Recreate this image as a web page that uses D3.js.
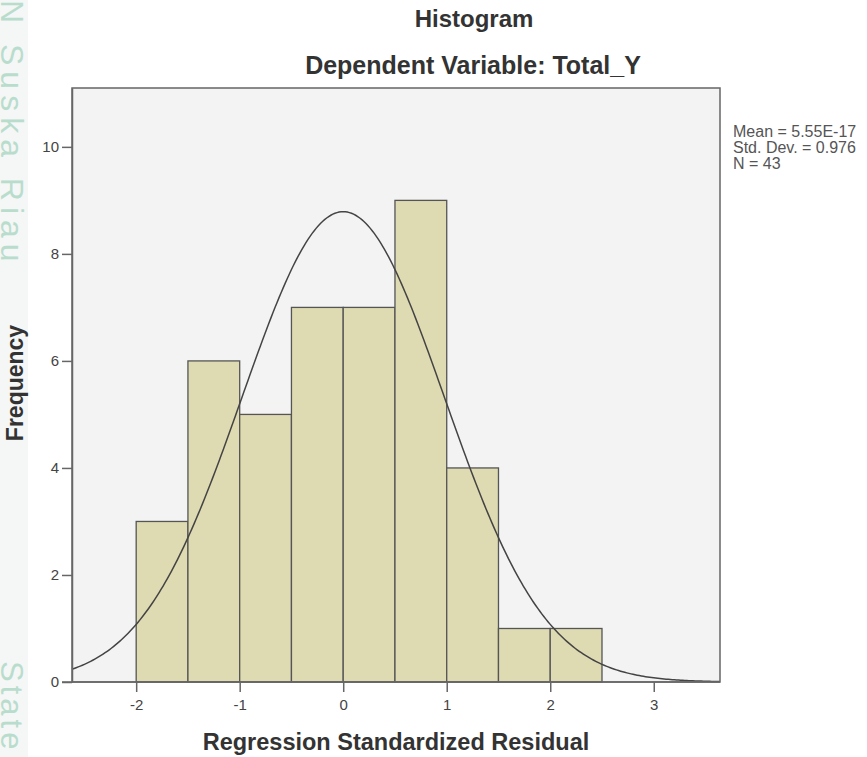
<!DOCTYPE html>
<html>
<head>
<meta charset="utf-8">
<script src="https://cdn.jsdelivr.net/npm/d3@7"></script>
<style>
  body { margin: 0; background: #fff; }
  svg { display: block; font-family: "Liberation Sans", Arial, sans-serif; }
</style>
</head>
<body>
<svg id="chart"></svg>
<script>
// histogram bins (left edge) and counts
const binStarts = [-2, -1.5, -1, -0.5, 0, 0.5, 1, 1.5, 2];
const binWidth = 0.5;
const counts = [3, 6, 5, 7, 7, 9, 4, 1, 1];

const xTicks = [-2, -1, 0, 1, 2, 3];
const yTicks = [0, 2, 4, 6, 8, 10];

// stats shown in the legend, also used for the normal curve
const mean = 5.55e-17, sd = 0.976, n = 43;
const statLines = ["Mean = 5.55E-17", "Std. Dev. = 0.976", "N = 43"];

const width = 867, height = 757;
const margin = { top: 88, bottom: 75, left: 72, right: 147 };
const baseY = 682;

const svg = d3.select("#chart")
    .attr("width", width)
    .attr("height", height);

// left watermark strip
svg.append("rect")
    .attr("x", 0).attr("y", 0)
    .attr("width", 28).attr("height", height)
    .attr("fill", "#f5f6f6");

svg.append("text")
    .attr("transform", "translate(1,-44) rotate(90)")
    .attr("font-size", 32)
    .attr("fill", "#b9ddcd")
    .attr("letter-spacing", 6)
    .text("UIN Suska Riau");

svg.append("text")
    .attr("transform", "translate(1,661) rotate(90)")
    .attr("font-size", 31)
    .attr("fill", "#b9ddcd")
    .attr("letter-spacing", 4)
    .text("State I");

const xScale = d3.scaleLinear()
    .domain([-2.62, 3.64])
    .range([margin.left, width - margin.right]);

const yScale = d3.scaleLinear()
    .domain([0, 11.1])
    .range([baseY, margin.top]);

// plot background
svg.append("rect")
    .attr("x", margin.left)
    .attr("y", margin.top)
    .attr("width", width - margin.right - margin.left)
    .attr("height", baseY - margin.top)
    .attr("fill", "#f3f3f3");

// bars
svg.selectAll("rect.bar")
    .data(binStarts)
    .enter().append("rect")
    .attr("class", "bar")
    .attr("x", d => xScale(d))
    .attr("y", (d, i) => yScale(counts[i]))
    .attr("width", d => xScale(d + binWidth) - xScale(d))
    .attr("height", (d, i) => yScale(0) - yScale(counts[i]))
    .attr("fill", "#dedab2")
    .attr("stroke", "#555")
    .attr("stroke-width", 1.3);

// normal curve from the stats
const norm = x => n * binWidth * Math.exp(-0.5 * ((x - mean) / sd) ** 2) / (sd * Math.sqrt(2 * Math.PI));
const xs = d3.range(-2.62, 3.641, 0.02);
svg.append("path")
    .datum(xs)
    .attr("fill", "none")
    .attr("stroke", "#444")
    .attr("stroke-width", 1.5)
    .attr("d", d3.line().x(d => xScale(d)).y(d => yScale(norm(d))));

// frame
svg.append("rect")
    .attr("x", margin.left)
    .attr("y", margin.top)
    .attr("width", width - margin.right - margin.left)
    .attr("height", baseY - margin.top)
    .attr("fill", "none")
    .attr("stroke", "#666")
    .attr("stroke-width", 1.5);

// axes
const xAxis = svg.append("g")
    .attr("transform", `translate(0,${baseY})`)
    .call(d3.axisBottom(xScale).tickValues(xTicks).tickSize(10).tickSizeOuter(0).tickFormat(d => String(d)));

const yAxis = svg.append("g")
    .attr("transform", `translate(${margin.left},0)`)
    .call(d3.axisLeft(yScale).tickValues(yTicks).tickSize(10).tickSizeOuter(0).tickFormat(d => String(d)));

[xAxis, yAxis].forEach(g => {
    g.select(".domain").attr("stroke", "#666").attr("stroke-width", 1.5);
    g.selectAll(".tick line").attr("stroke", "#666").attr("stroke-width", 1.5);
    g.selectAll(".tick text")
        .attr("fill", "#444")
        .style("font-family", "'Liberation Sans', Arial, sans-serif")
        .style("font-size", "15px");
});
xAxis.select(".domain").attr("d", `M${margin.left - 10},0H${width - margin.right}`);
xAxis.selectAll(".tick text").attr("y", 17);
yAxis.selectAll(".tick text").attr("x", -13);

// titles
svg.append("text")
    .attr("x", 474).attr("y", 27)
    .attr("text-anchor", "middle")
    .attr("font-size", 24).attr("font-weight", "bold")
    .attr("fill", "#333")
    .text("Histogram");

svg.append("text")
    .attr("x", 473).attr("y", 74)
    .attr("text-anchor", "middle")
    .attr("font-size", 25).attr("font-weight", "bold")
    .attr("fill", "#333")
    .text("Dependent Variable: Total_Y");

svg.append("text")
    .attr("x", 396).attr("y", 750)
    .attr("text-anchor", "middle")
    .attr("font-size", 23.5).attr("font-weight", "bold")
    .attr("fill", "#333")
    .text("Regression Standardized Residual");

svg.append("text")
    .attr("transform", "translate(23,383) rotate(-90)")
    .attr("text-anchor", "middle")
    .attr("font-size", 23).attr("font-weight", "bold")
    .attr("fill", "#333")
    .text("Frequency");

// legend stats
svg.selectAll("text.stat")
    .data(statLines)
    .enter().append("text")
    .attr("class", "stat")
    .attr("x", 733)
    .attr("y", (d, i) => 137 + i * 16)
    .attr("font-size", 16)
    .attr("fill", "#555")
    .text(d => d);
</script>
</body>
</html>
